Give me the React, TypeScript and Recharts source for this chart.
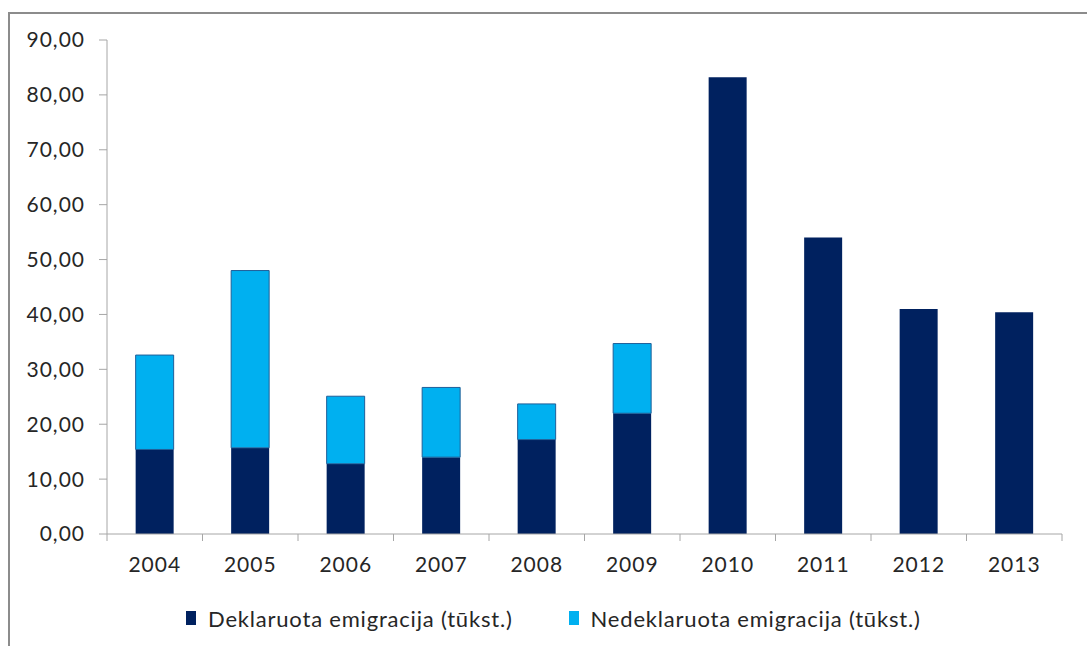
import React from 'react';
import { Bar, BarChart, XAxis, YAxis } from 'recharts';

const YEARS = ['2004', '2005', '2006', '2007', '2008', '2009', '2010', '2011', '2012', '2013'];
const DECLARED = [15.4, 15.7, 12.8, 14.0, 17.2, 22.0, 83.2, 54.0, 41.0, 40.4];
const UNDECLARED = [17.2, 32.3, 12.3, 12.7, 6.5, 12.7, 0, 0, 0, 0];
const Y_TICKS = [0, 10, 20, 30, 40, 50, 60, 70, 80, 90];

const DECLARED_LABEL = 'Deklaruota emigracija (tūkst.)';
const UNDECLARED_LABEL = 'Nedeklaruota emigracija (tūkst.)';

const DARK = '#00215f';
const LIGHT = '#00b0f0';
const AXIS = '#a6a6a6';
const TEXT = '#262626';
const FONT = 'Lato, "Open Sans", sans-serif';

const data = YEARS.map((year, i) => ({
  year,
  declared: DECLARED[i],
  undeclared: UNDECLARED[i],
}));

const fmt = (v: number) => v.toFixed(2).replace('.', ',');

// category axis: label in the middle of the band, tick marks on the band edges
function YearTick(props: any) {
  const { x, y, payload, index } = props;
  const half = payload.offset ?? 0;
  const last = index === YEARS.length - 1;
  return (
    <g>
      <line x1={x - half} x2={x - half} y1={y} y2={y + 7} stroke={AXIS} />
      {last && <line x1={x + half} x2={x + half} y1={y} y2={y + 7} stroke={AXIS} />}
      <text
        x={x}
        y={y + 38}
        textAnchor="middle"
        fill={TEXT}
        fontSize={21}
        fontFamily={FONT}
        letterSpacing={1}
      >
        {payload.value}
      </text>
    </g>
  );
}

function LegendItem({ color, label }: { color: string; label: string }) {
  return (
    <span style={{ display: 'inline-flex', alignItems: 'center', marginRight: 56 }}>
      <span style={{ display: 'inline-block', width: 10, height: 14, background: color, marginRight: 12 }} />
      <span>{label}</span>
    </span>
  );
}

export default function App() {
  return (
    <div style={{ position: 'fixed', inset: 0, overflow: 'hidden', background: '#fff' }}>
      <div
        style={{
          position: 'absolute',
          left: 8,
          top: 12,
          width: 1200,
          height: 800,
          border: '2px solid #8c8c8c',
        }}
      />
      <div style={{ position: 'absolute', left: 0, top: 0 }}>
        <BarChart
          width={1087}
          height={646}
          data={data}
          margin={{ top: 40, right: 25, left: 0, bottom: 72 }}
          barCategoryGap="30%"
        >
          <YAxis
            width={107}
            domain={[0, 90]}
            ticks={Y_TICKS}
            tickFormatter={fmt}
            stroke={AXIS}
            tickSize={8}
            tickMargin={14}
            tick={{ fill: TEXT, fontSize: 21, fontFamily: FONT, letterSpacing: 1 }}
            interval={0}
          />
          <XAxis
            dataKey="year"
            height={40}
            stroke={AXIS}
            tickLine={false}
            tickSize={0}
            tickMargin={0}
            interval={0}
            tick={<YearTick />}
          />
          <Bar dataKey="declared" stackId="a" fill={DARK} isAnimationActive={false} />
          <Bar
            dataKey="undeclared"
            stackId="a"
            fill={LIGHT}
            stroke="#1f5f99"
            strokeWidth={1}
            isAnimationActive={false}
          />
        </BarChart>
      </div>
      <div
        style={{
          position: 'absolute',
          left: 186,
          top: 603,
          fontFamily: FONT,
          fontSize: 22,
          letterSpacing: 0.8,
          color: TEXT,
          whiteSpace: 'nowrap',
        }}
      >
        <LegendItem color={DARK} label={DECLARED_LABEL} />
        <LegendItem color={LIGHT} label={UNDECLARED_LABEL} />
      </div>
    </div>
  );
}
